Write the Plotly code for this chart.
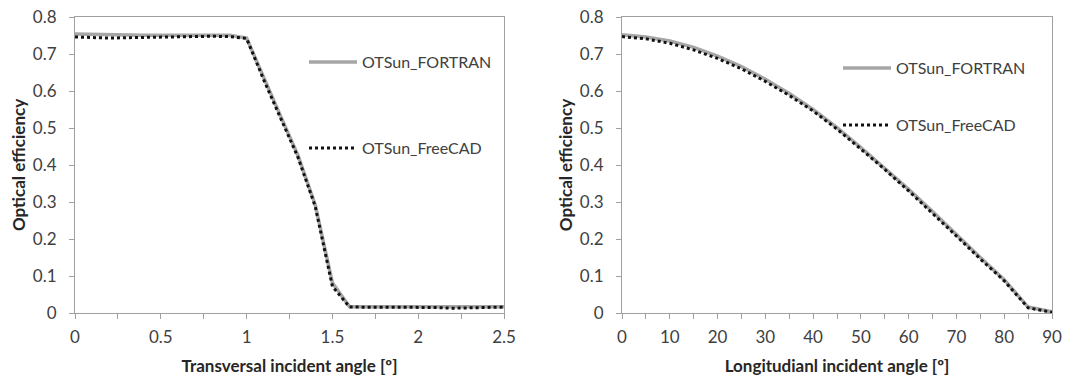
import plotly.graph_objects as go

# ---- data ----
trans_angle = [0.0, 0.1, 0.2, 0.3, 0.4, 0.5, 0.6, 0.7, 0.8, 0.9, 1.0, 1.1, 1.2,
               1.3, 1.4, 1.5, 1.6, 1.7, 1.8, 1.9, 2.0, 2.1, 2.2, 2.3, 2.4, 2.5]
trans_fortran = [0.754, 0.753, 0.751, 0.751, 0.751, 0.751, 0.751, 0.752, 0.752, 0.751,
                 0.743, 0.635, 0.530, 0.425, 0.292, 0.082, 0.017, 0.017, 0.017, 0.017,
                 0.017, 0.017, 0.017, 0.017, 0.017, 0.017]
trans_freecad = [0.746, 0.744, 0.743, 0.744, 0.745, 0.746, 0.746, 0.748, 0.748, 0.747,
                 0.742, 0.630, 0.525, 0.420, 0.288, 0.072, 0.016, 0.016, 0.016, 0.016,
                 0.016, 0.015, 0.013, 0.014, 0.017, 0.016]

long_angle = [0, 5, 10, 15, 20, 25, 30, 35, 40, 45, 50, 55, 60, 65, 70, 75, 80, 85, 90]
long_fortran = [0.752, 0.746, 0.735, 0.718, 0.694, 0.666, 0.632, 0.593, 0.550, 0.501,
                0.447, 0.392, 0.334, 0.274, 0.211, 0.150, 0.090, 0.016, 0.003]
long_freecad = [0.747, 0.741, 0.729, 0.711, 0.688, 0.660, 0.626, 0.588, 0.546, 0.497,
                0.443, 0.388, 0.330, 0.270, 0.208, 0.146, 0.087, 0.014, 0.002]

name_fortran = "OTSun_FORTRAN"
name_freecad = "OTSun_FreeCAD"
x_title_left = "Transversal incident angle [º]"
x_title_right = "Longitudianl incident angle [º]"
y_title = "Optical efficiency"

# ---- styles ----
FONT = "Lato, 'Open Sans', sans-serif"
TXT = "#404040"
AX = "#a0a0a0"
GRAY = "#a6a6a6"

fig = go.Figure()
fig.add_trace(go.Scatter(x=trans_angle, y=trans_fortran, name=name_fortran, mode="lines",
                         line=dict(color=GRAY, width=3.5), xaxis="x", yaxis="y",
                         legend="legend", showlegend=True))
fig.add_trace(go.Scatter(x=trans_angle, y=trans_freecad, name=name_freecad, mode="lines",
                         line=dict(color="#111111", width=3, dash="dot"), xaxis="x", yaxis="y",
                         legend="legend2", showlegend=True))
fig.add_trace(go.Scatter(x=long_angle, y=long_fortran, name=name_fortran, mode="lines",
                         line=dict(color=GRAY, width=3.5), xaxis="x2", yaxis="y2",
                         legend="legend3", showlegend=True))
fig.add_trace(go.Scatter(x=long_angle, y=long_freecad, name=name_freecad, mode="lines",
                         line=dict(color="#111111", width=3, dash="dot"), xaxis="x2", yaxis="y2",
                         legend="legend4", showlegend=True))

W, H = 1067, 376
def px_x(p):
    return p / W
def px_y(p):
    return (H - p) / H

ydom = [px_y(313), px_y(17)]
common_x = dict(showline=True, linecolor=AX, linewidth=1, mirror=True, showgrid=False,
                zeroline=False, ticks="outside", ticklen=5, tickcolor=AX, automargin=False,
                ticklabelstandoff=4,
                tickfont=dict(family=FONT, size=17, color=TXT),
                title_font=dict(family=FONT, size=17, color="#262626"))
common_y = dict(showline=True, linecolor=AX, linewidth=1, mirror=True, showgrid=False,
                zeroline=False, ticks="outside", ticklen=5, tickcolor=AX, automargin=False,
                ticklabelstandoff=9,
                range=[0, 0.8], dtick=0.1, tickformat="~g",
                tickfont=dict(family=FONT, size=17, color=TXT),
                title_font=dict(family=FONT, size=17, color="#262626"))

legend_common = dict(bgcolor="rgba(0,0,0,0)", font=dict(family=FONT, size=16, color=TXT),
                     xanchor="left", yanchor="middle", itemwidth=48, visible=True)

fig.update_layout(
    width=W, height=H,
    margin=dict(l=0, r=0, t=0, b=0),
    showlegend=True,
    paper_bgcolor="white", plot_bgcolor="white",
    xaxis=dict(common_x, domain=[px_x(75), px_x(504)], range=[0, 2.5], dtick=0.5,
               minor=dict(dtick=0.25, ticks="outside", ticklen=5, tickcolor=AX),
               title=dict(text="<b>" + x_title_left + "</b>", standoff=15), anchor="y"),
    yaxis=dict(common_y, domain=ydom, anchor="x",
               title=dict(text="<b>" + y_title + "</b>", standoff=2)),
    xaxis2=dict(common_x, domain=[px_x(622), px_x(1052)], range=[0, 90], dtick=10,
                minor=dict(dtick=5, ticks="outside", ticklen=5, tickcolor=AX),
                title=dict(text="<b>" + x_title_right + "</b>", standoff=15), anchor="y2"),
    yaxis2=dict(common_y, domain=ydom, anchor="x2",
                title=dict(text="<b>" + y_title + "</b>", standoff=2)),
    legend=dict(legend_common, x=px_x(304), y=px_y(62)),
    legend2=dict(legend_common, x=px_x(304), y=px_y(148)),
    legend3=dict(legend_common, x=px_x(838), y=px_y(68)),
    legend4=dict(legend_common, x=px_x(838), y=px_y(125)),
)

fig.write_html("out.html", config={"displayModeBar": False},
               post_script="document.body.style.margin='0';document.body.style.overflow='hidden';")
